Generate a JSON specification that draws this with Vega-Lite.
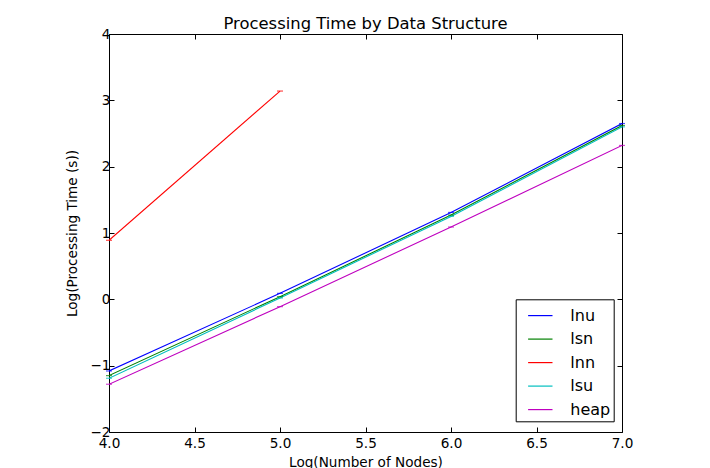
{
  "$schema": "https://vega.github.io/schema/vega-lite/v6.json",
  "width": 513,
  "height": 398,
  "autosize": {"type": "none"},
  "padding": {"left": 109, "top": 34, "right": 88, "bottom": 36},
  "background": "white",
  "config": {
    "font": "DejaVu Sans",
    "view": {"stroke": "black", "strokeWidth": 1},
    "axis": {
      "grid": false,
      "domain": false,
      "tickColor": "black",
      "tickSize": -5,
      "labelFlush": false,
      "labelOverlap": false,
      "labelColor": "black",
      "labelFont": "DejaVu Sans",
      "labelFontSize": 13.6,
      "titleFont": "DejaVu Sans",
      "titleFontSize": 13.6,
      "titleFontWeight": "normal",
      "titleColor": "black"
    }
  },
  "title": {
    "text": "Processing Time by Data Structure",
    "font": "DejaVu Sans",
    "fontSize": 16.4,
    "fontWeight": "normal",
    "color": "black",
    "offset": -5
  },
  "data": {
    "values": [
      {"nodes": 4, "time": -1.08, "ds": "lnu"},
      {"nodes": 5, "time": 0.09, "ds": "lnu"},
      {"nodes": 6, "time": 1.31, "ds": "lnu"},
      {"nodes": 7, "time": 2.65, "ds": "lnu"},
      {"nodes": 4, "time": -1.15, "ds": "lsn"},
      {"nodes": 5, "time": 0.04, "ds": "lsn"},
      {"nodes": 6, "time": 1.27, "ds": "lsn"},
      {"nodes": 7, "time": 2.62, "ds": "lsn"},
      {"nodes": 4, "time": 0.89, "ds": "lnn"},
      {"nodes": 5, "time": 3.14, "ds": "lnn"},
      {"nodes": 4, "time": -1.19, "ds": "lsu"},
      {"nodes": 5, "time": 0.02, "ds": "lsu"},
      {"nodes": 6, "time": 1.25, "ds": "lsu"},
      {"nodes": 7, "time": 2.6, "ds": "lsu"},
      {"nodes": 4, "time": -1.28, "ds": "heap"},
      {"nodes": 5, "time": -0.11, "ds": "heap"},
      {"nodes": 6, "time": 1.09, "ds": "heap"},
      {"nodes": 7, "time": 2.32, "ds": "heap"}
    ]
  },
  "layer": [
    {
      "mark": {"type": "line", "strokeWidth": 1.1, "clip": true},
      "encoding": {
        "x": {
          "field": "nodes", "type": "quantitative",
          "scale": {"domain": [4, 7], "nice": false, "zero": false},
          "axis": {"values": [4, 4.5, 5, 5.5, 6, 6.5, 7], "format": ".1f", "labelPadding": 9, "title": "Log(Number of Nodes)", "titlePadding": 6}
        },
        "y": {
          "field": "time", "type": "quantitative",
          "scale": {"domain": [-2, 4], "nice": false, "zero": false},
          "axis": {"values": [-2, -1, 0, 1, 2, 3, 4], "labelExpr": "replace(datum.label, '-', '\u2212')", "labelPadding": 4, "title": "Log(Processing Time (s))", "titlePadding": 10}
        },
        "color": {
          "field": "ds", "type": "nominal",
          "scale": {
            "domain": ["lnu", "lsn", "lnn", "lsu", "heap"],
            "range": ["#0000ff", "#008000", "#ff0000", "#00bfbf", "#bf00bf"]
          },
          "legend": {
            "title": null,
            "orient": "none",
            "legendX": 406.7,
            "legendY": 265.3,
            "symbolType": "stroke",
            "symbolSize": 595,
            "symbolStrokeWidth": 1.2,
            "symbolOffset": 8.3,
            "labelFontSize": 16,
            "labelColor": "black",
            "labelOffset": 17,
            "rowPadding": 2.5,
            "padding": 3.3,
            "strokeColor": "black",
            "fillColor": "white"
          }
        }
      }
    },
    {
      "mark": {"type": "tick", "orient": "horizontal", "size": 6, "thickness": 1.2},
      "encoding": {
        "x": {
          "field": "nodes", "type": "quantitative",
          "scale": {"domain": [4, 7], "nice": false, "zero": false},
          "axis": {"orient": "top", "values": [4, 4.5, 5, 5.5, 6, 6.5, 7], "labels": false, "title": null}
        },
        "y": {
          "field": "time", "type": "quantitative",
          "scale": {"domain": [-2, 4], "nice": false, "zero": false},
          "axis": {"orient": "right", "values": [-2, -1, 0, 1, 2, 3, 4], "labels": false, "title": null}
        },
        "color": {"field": "ds", "type": "nominal", "legend": null}
      }
    }
  ],
  "resolve": {"scale": {"x": "independent", "y": "independent"}, "axis": {"x": "independent", "y": "independent"}}
}
